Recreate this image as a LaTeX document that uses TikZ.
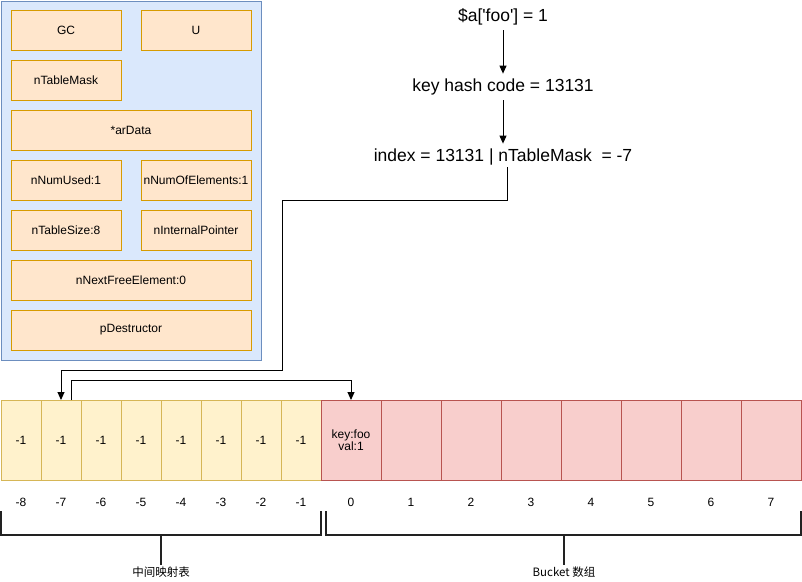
\documentclass[tikz,border=0pt]{standalone}
\usepackage{fontspec}
\setmainfont{Liberation Sans}
\newfontfamily\cjk{Noto Sans CJK SC}
\usetikzlibrary{arrows.meta}
\definecolor{bluefill}{HTML}{DAE8FC}
\definecolor{bluestroke}{HTML}{6C8EBF}
\definecolor{orfill}{HTML}{FFE6CC}
\definecolor{orstroke}{HTML}{D79B00}
\definecolor{yefill}{HTML}{FFF2CC}
\definecolor{yestroke}{HTML}{D6B656}
\definecolor{rdfill}{HTML}{F8CECC}
\definecolor{rdstroke}{HTML}{B85450}
\definecolor{brkcol}{HTML}{222222}
\tikzset{
  field/.style={draw=orstroke,fill=orfill,line width=1pt,inner sep=0pt,outer sep=0pt,
    minimum height=40pt,font=\fontsize{12}{14}\selectfont},
  ycell/.style={draw=yestroke,fill=yefill,line width=1pt,inner sep=0pt,outer sep=0pt,
    minimum width=40pt,minimum height=80pt,font=\fontsize{12}{14}\selectfont},
  rcell/.style={draw=rdstroke,fill=rdfill,line width=1pt,inner sep=0pt,outer sep=0pt,
    minimum width=60pt,minimum height=80pt,font=\fontsize{12}{14}\selectfont,align=center},
  idx/.style={font=\fontsize{12}{14}\selectfont},
  big/.style={font=\fontsize{17.5}{20}\selectfont,inner sep=2pt},
  arr/.style={line width=1pt,-{Triangle[length=8pt,width=7pt]}},
  brk/.style={draw=brkcol,line width=2pt},
  lbl/.style={font=\cjk\fontsize{11.5}{13}\selectfont,inner sep=1pt}
}
\begin{document}
\begin{tikzpicture}[x=1pt,y=-1pt]
\useasboundingbox (0,0) rectangle (802,581);
\fill[white] (0,0) rectangle (802,581);
% struct container
\node[draw=bluestroke,fill=bluefill,line width=1pt,minimum width=260pt,minimum height=359pt,inner sep=0pt] (zt) at (131,180.5) {};
\node[field,minimum width=110pt] (gc) at (66,30) {GC};
\node[field,minimum width=110pt] (u) at (196,30) {U};
\node[field,minimum width=110pt] (mask) at (66,80) {nTableMask};
\node[field,minimum width=240pt] (ardata) at (131,130) {*arData};
\node[field,minimum width=110pt] (used) at (66,180) {nNumUsed:1};
\node[field,minimum width=110pt] (numel) at (196,180) {nNumOfElements:1};
\node[field,minimum width=110pt] (size) at (66,230) {nTableSize:8};
\node[field,minimum width=110pt] (intp) at (196,230) {nInternalPointer};
\node[field,minimum width=240pt] (nfree) at (131,280) {nNextFreeElement:0};
\node[field,minimum width=240pt] (pdes) at (131,330) {pDestructor};
% top formula
\node[big] (t1) at (503,17) {\$a[\textquotesingle foo\textquotesingle] = 1};
\node[big] (t2) at (503,87) {key hash code = 13131};
\node[big] (t3) at (503,157) {index = 13131 | nTableMask\ \ = -7};
\draw[arr,shorten <=3pt] (t1) -- ([yshift=3pt]t2.north);
\draw[arr,shorten <=3pt] (t2) -- ([yshift=3pt]t3.north);
% cells
\foreach \i [count=\k from 0] in {8,7,6,5,4,3,2,1}{
  \node[ycell] (cm\i) at (21+40*\k,440) {-1};
  \node[idx] (im\i) at (21+40*\k,502) {-\i};
}
\node[rcell] (r0) at (351,440) {key:foo\\[-2pt]val:1};
\node[idx] (i0) at (351,502) {0};
\foreach \k in {1,...,7}{
  \node[rcell] (r\k) at (351+60*\k,440) {};
  \node[idx] (i\k) at (351+60*\k,502) {\k};
}
% connectors
\draw[arr] ([xshift=4pt]t3.south) |- (282,200) |- ([yshift=30pt]cm7.north) -- (cm7.north);
\draw[arr] ([xshift=10pt]cm7.north) -- ([xshift=10pt,yshift=20pt]cm7.north) -| (r0.north);
% brackets
\node[lbl] (lb1) at (161,572) {中间映射表};
\node[lbl] (lb2) at (564,572) {Bucket 数组};
\draw[brk] (1,511) -- (1,535) -- (321,535) -- (321,511);
\draw[brk] (161,535) -- (lb1.north);
\draw[brk] (326,511) -- (326,535) -- (801,535) -- (801,511);
\draw[brk] (564,535) -- (lb2.north);
\end{tikzpicture}
\end{document}
